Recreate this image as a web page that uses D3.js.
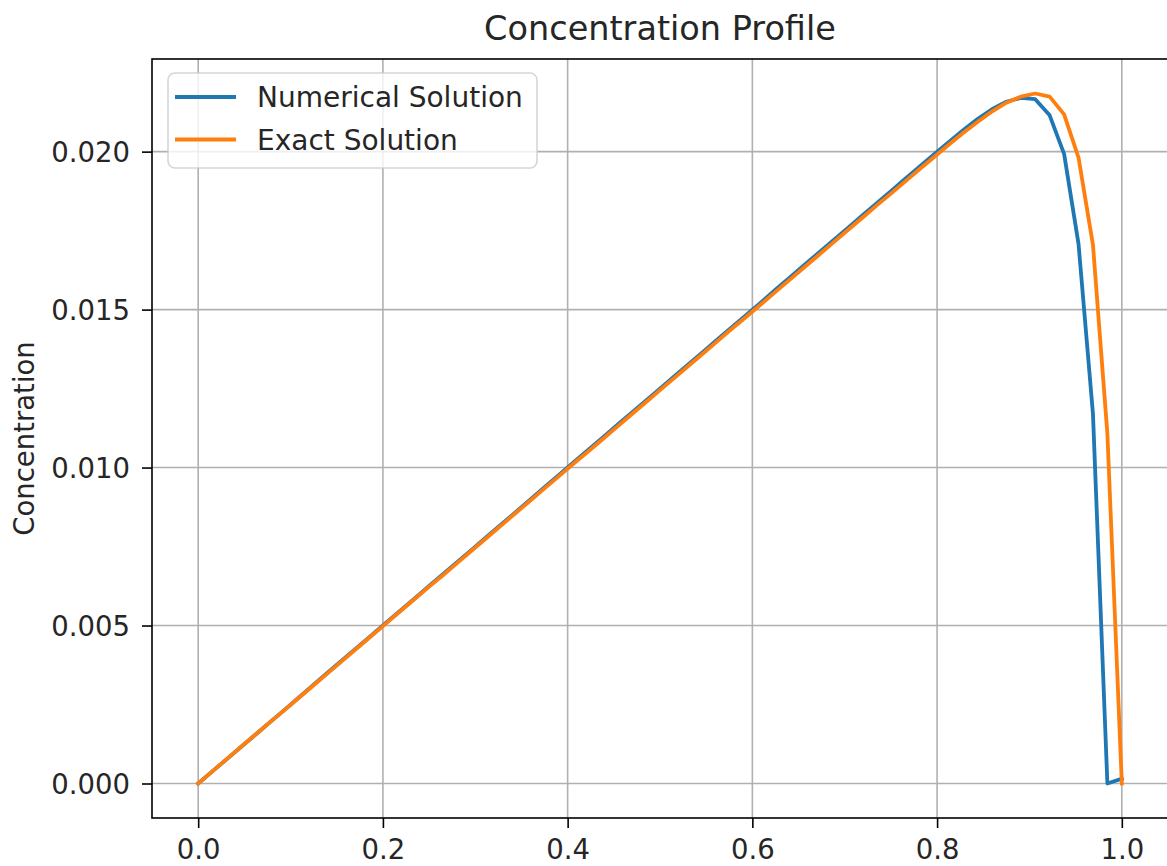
<!DOCTYPE html>
<html>
<head>
<meta charset="utf-8">
<script src="https://cdn.jsdelivr.net/npm/d3@7"></script>
<style>
  html, body { margin: 0; padding: 0; background: #fff; }
  svg { display: block; font-family: "DejaVu Sans", sans-serif; }
</style>
</head>
<body>
<svg id="chart" width="1167" height="866"></svg>
<script>
// Grid: 65 nodes on [0, 1], spacing 1/64
const xNodes = d3.range(0, 65).map(i => i / 64);

// Numerical solution at each node
const numerical = [
  0.00000, 0.00039, 0.00078, 0.00117, 0.00156, 0.00195, 0.00234, 0.00273,
  0.00313, 0.00352, 0.00391, 0.00430, 0.00469, 0.00508, 0.00547, 0.00586,
  0.00625, 0.00664, 0.00703, 0.00742, 0.00781, 0.00820, 0.00859, 0.00898,
  0.00938, 0.00977, 0.01016, 0.01055, 0.01094, 0.01133, 0.01172, 0.01211,
  0.01250, 0.01289, 0.01328, 0.01367, 0.01406, 0.01445, 0.01484, 0.01523,
  0.01563, 0.01602, 0.01641, 0.01680, 0.01719, 0.01758, 0.01797, 0.01836,
  0.01875, 0.01914, 0.01953, 0.01992, 0.02030, 0.02068, 0.02103, 0.02134,
  0.02158, 0.02170, 0.02166, 0.02115, 0.01993, 0.01708, 0.01170, 0.00000,
  0.00015
];

// Exact solution at each node
const exact = [
  0.00000, 0.00039, 0.00078, 0.00117, 0.00156, 0.00195, 0.00233, 0.00272,
  0.00311, 0.00350, 0.00389, 0.00428, 0.00467, 0.00506, 0.00545, 0.00584,
  0.00623, 0.00661, 0.00700, 0.00739, 0.00778, 0.00817, 0.00856, 0.00895,
  0.00934, 0.00973, 0.01012, 0.01050, 0.01089, 0.01128, 0.01167, 0.01206,
  0.01245, 0.01284, 0.01323, 0.01362, 0.01401, 0.01440, 0.01478, 0.01517,
  0.01556, 0.01595, 0.01634, 0.01673, 0.01712, 0.01751, 0.01790, 0.01829,
  0.01867, 0.01906, 0.01945, 0.01983, 0.02022, 0.02059, 0.02094, 0.02127,
  0.02155, 0.02174, 0.02184, 0.02174, 0.02118, 0.01981, 0.01705, 0.01107,
  0.00000
];

const xTicks = [0.0, 0.2, 0.4, 0.6, 0.8, 1.0];
const yTicks = [0.000, 0.005, 0.010, 0.015, 0.020];

const seriesNames = ["Numerical Solution", "Exact Solution"];
const seriesColors = ["#1f77b4", "#ff7f0e"];

const titleText = "Concentration Profile";
const yLabelText = "Concentration";

// Plot area
const plotLeft = 152, plotRight = 1168, plotTop = 59, plotBottom = 818;

const svg = d3.select("#chart");

// Axis limits with 5% padding on each side of the data range
const xExt = d3.extent(xNodes);
const xPad = (xExt[1] - xExt[0]) * 0.05;
const allY = numerical.concat(exact);
const yExt = d3.extent(allY);
const yPad = (yExt[1] - yExt[0]) * 0.05;

const x = d3.scaleLinear().domain([xExt[0] - xPad, xExt[1] + xPad]).range([plotLeft, plotRight]);
const y = d3.scaleLinear().domain([yExt[0] - yPad, yExt[1] + yPad]).range([plotBottom, plotTop]);

// Grid lines
const grid = svg.append("g").attr("stroke", "#b0b0b0").attr("stroke-width", 1.6);
grid.selectAll("line.vx").data(xTicks).enter().append("line")
  .attr("x1", d => x(d)).attr("x2", d => x(d))
  .attr("y1", plotTop).attr("y2", plotBottom);
grid.selectAll("line.hy").data(yTicks).enter().append("line")
  .attr("x1", plotLeft).attr("x2", plotRight)
  .attr("y1", d => y(d)).attr("y2", d => y(d));

// Curves
const line = d3.line().x(d => x(d[0])).y(d => y(d[1]));
[numerical, exact].forEach((vals, k) => {
  svg.append("path")
    .datum(xNodes.map((xv, i) => [xv, vals[i]]))
    .attr("fill", "none")
    .attr("stroke", seriesColors[k])
    .attr("stroke-width", 3.8)
    .attr("stroke-linejoin", "round")
    .attr("stroke-linecap", "square")
    .attr("d", line);
});

// Axes
const xAxis = d3.axisBottom(x).tickValues(xTicks).tickFormat(d3.format(".1f"))
  .tickSize(10).tickPadding(11);
const yAxis = d3.axisLeft(y).tickValues(yTicks).tickFormat(d3.format(".3f"))
  .tickSize(10).tickPadding(12);

const gx = svg.append("g").attr("transform", `translate(0,${plotBottom})`).call(xAxis);
const gy = svg.append("g").attr("transform", `translate(${plotLeft},0)`).call(yAxis);
[gx, gy].forEach(g => {
  g.select(".domain").remove();
  g.selectAll(".tick line").attr("stroke", "#000").attr("stroke-width", 1.6);
  g.selectAll(".tick text").attr("fill", "#262626")
    .style("font-size", "27.5px").style("font-family", "DejaVu Sans");
});
gx.selectAll(".tick text").attr("dy", "0.73em");
gy.selectAll(".tick text").attr("dy", "0.36em");

// Frame
svg.append("rect")
  .attr("x", plotLeft).attr("y", plotTop)
  .attr("width", plotRight - plotLeft).attr("height", plotBottom - plotTop)
  .attr("fill", "none").attr("stroke", "#000").attr("stroke-width", 1.6);

// Title
svg.append("text")
  .attr("x", (plotLeft + plotRight) / 2).attr("y", 40)
  .attr("text-anchor", "middle")
  .attr("fill", "#262626")
  .style("font-size", "33.5px")
  .text(titleText);

// Y axis label
svg.append("text")
  .attr("transform", `translate(34,${(plotTop + plotBottom) / 2}) rotate(-90)`)
  .attr("text-anchor", "middle")
  .attr("fill", "#262626")
  .style("font-size", "27.5px")
  .text(yLabelText);

// Legend
const legend = svg.append("g");
legend.append("rect")
  .attr("x", 168).attr("y", 73)
  .attr("width", 369).attr("height", 95)
  .attr("rx", 7).attr("ry", 7)
  .attr("fill", "#fff").attr("fill-opacity", 0.8)
  .attr("stroke", "#cccccc").attr("stroke-opacity", 0.8).attr("stroke-width", 1.6);
seriesNames.forEach((name, k) => {
  const cy = 97 + k * 42.5;
  legend.append("line")
    .attr("x1", 175).attr("x2", 236)
    .attr("y1", cy).attr("y2", cy)
    .attr("stroke", seriesColors[k]).attr("stroke-width", 3.8);
  legend.append("text")
    .attr("x", 257).attr("y", cy).attr("dy", "0.36em")
    .attr("fill", "#262626")
    .style("font-size", "28px")
    .text(name);
});
</script>
</body>
</html>
